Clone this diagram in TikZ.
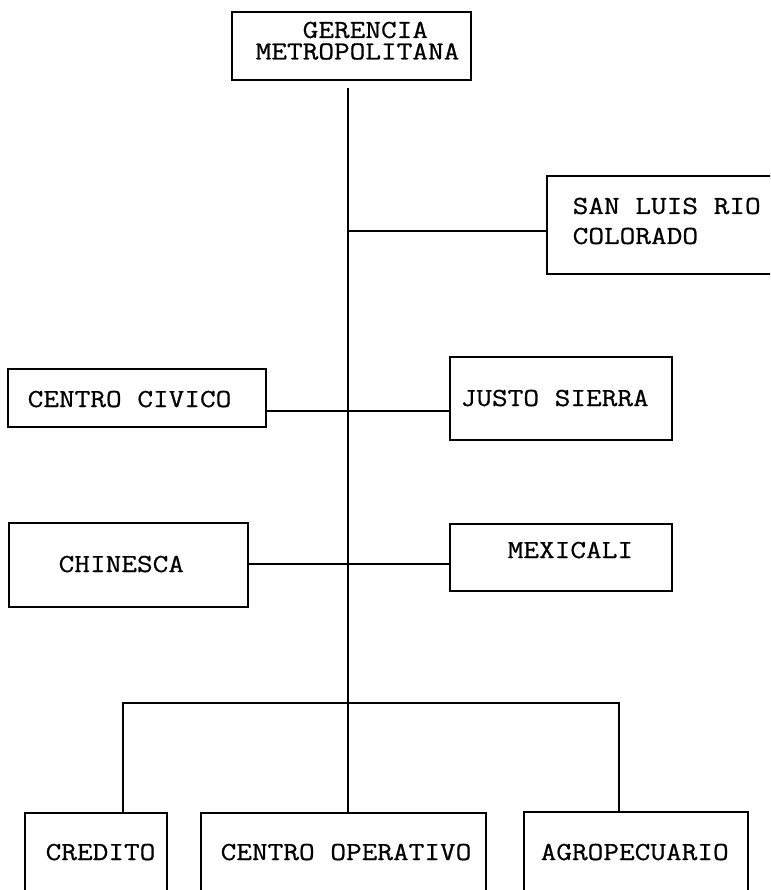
\documentclass[tikz,border=0pt]{standalone}
\usepackage{fontspec}
\setmonofont{Latin Modern Mono}[FakeStretch=1.17, FakeBold=0.7]
\begin{document}
\begin{tikzpicture}[x=1pt, y=-1pt,
  line width=1.4pt,
  unit/.style={draw, rectangle, inner sep=0pt, line width=1.4pt},
  lbl/.style={anchor=base west, inner sep=0pt, font=\fontsize{26}{26}\selectfont\ttfamily}]
  \useasboundingbox (0,0) rectangle (770,890);
  \clip (0,0) rectangle (770,890);

  % boxes (centre, width, height)
  \node[unit, minimum width=239pt, minimum height=68pt] (gerencia) at (351.5,46) {};
  \node[unit, minimum width=260pt, minimum height=98pt] (sanluis) at (677,225) {};
  \node[unit, minimum width=258pt, minimum height=58pt] (civico) at (137,398) {};
  \node[unit, minimum width=222pt, minimum height=83pt] (justo) at (561,398.5) {};
  \node[unit, minimum width=239pt, minimum height=84pt] (chinesca) at (128.5,565) {};
  \node[unit, minimum width=222pt, minimum height=67pt] (mexicali) at (561,557.5) {};
  \node[unit, minimum width=142pt, minimum height=87pt] (credito) at (96,856.5) {};
  \node[unit, minimum width=285pt, minimum height=87pt] (opera) at (343.5,856.5) {};
  \node[unit, minimum width=224pt, minimum height=88pt] (agro) at (636,856) {};

  % labels
  \node[lbl, anchor=north west, align=left,
        font=\fontsize{26}{21.5}\selectfont\ttfamily] (gerencia-t) at (255,21)
        {\hspace*{47pt}GERENCIA\\METROPOLITANA};
  \node[lbl, anchor=north west, align=left,
        font=\fontsize{26}{30}\selectfont\ttfamily] (sanluis-t) at (572,197)
        {SAN LUIS RIO\\COLORADO};
  \node[lbl] (civico-t) at (27,407) {CENTRO CIVICO};
  \node[lbl] (justo-t) at (460,406) {JUSTO SIERRA};
  \node[lbl] (chinesca-t) at (58,572) {CHINESCA};
  \node[lbl] (mexicali-t) at (507,558) {MEXICALI};
  \node[lbl] (credito-t) at (45,860) {CREDITO};
  \node[lbl] (opera-t) at (220,860) {CENTRO OPERATIVO};
  \node[lbl] (agro-t) at (540,860) {AGROPECUARIO};

  % spine and junctions
  \coordinate (top) at (348,88);
  \coordinate (j1) at (348,231);
  \coordinate (j2) at (348,411);
  \coordinate (j3) at (348,564);
  \coordinate (j4) at (348,703);
  \coordinate (bl) at (123,703);
  \coordinate (br) at (619,703);

  \draw (top) -- (opera.north -| top);
  \draw (j1) -- (j1 -| sanluis.west);
  \draw (j2 -| civico.east) -- (j2 -| justo.west);
  \draw (j3 -| chinesca.east) -- (j3 -| mexicali.west);
  \draw (credito.north -| bl) -- (bl) -- (br) -- (agro.north -| br);
\end{tikzpicture}
\end{document}
